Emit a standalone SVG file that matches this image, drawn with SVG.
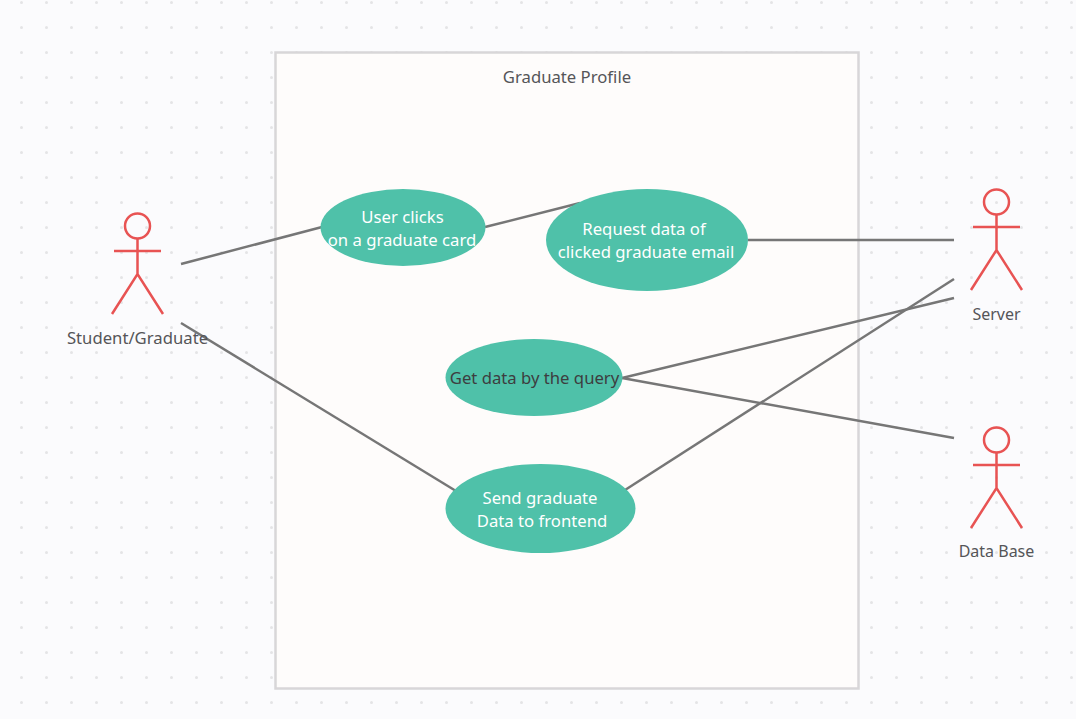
<svg xmlns="http://www.w3.org/2000/svg" width="1076" height="719" viewBox="0 0 1076 719">
<style>
text{font-family:"Noto Sans","Open Sans","Liberation Sans",sans-serif;font-size:16.7px;text-anchor:middle;fill:#555558}
.s{font-size:16px}
.w{fill:#fff}
.d{fill:#3d3d40}
.uc{fill:#4fc1a9}
.c{fill:none;stroke:#767676;stroke-width:2.5}
.a{fill:none;stroke:#e85353;stroke-width:2.5}
</style>
<defs>
<pattern id="dots" x="9" y="-10" width="25" height="25" patternUnits="userSpaceOnUse"><circle cx="12.5" cy="12.5" r="1.5" fill="#e4e4e6"/></pattern>
<g id="stick" class="a"><circle cx="0" cy="-88" r="12.500"/><path d="M0-75.500V-40M-23.500-63H23.500M-25.500 0L0-40L25.500 0"/></g>
</defs>
<rect width="1076" height="719" fill="#fbfbfd"/>
<rect width="1076" height="719" fill="url(#dots)"/>
<g id="boundary"><rect x="275.500" y="52.500" width="583" height="636" fill="#fefcfb" stroke="#d8d6d8" stroke-width="2.500"/><text x="567" y="83">Graduate Profile</text></g>
<g id="connectors" class="c">
<path d="M181 264L322 227"/>
<path d="M485 227L580 203"/>
<path d="M748 240H954"/>
<path d="M622 378L954 298"/>
<path d="M622 378L954 438"/>
<path d="M181 323L456 491"/>
<path d="M625 490L954 279"/>
</g>
<g id="uc1"><ellipse class="uc" cx="403" cy="227.500" rx="82.500" ry="38.500"/><text class="w" x="402.500" y="223">User clicks</text><text class="w" x="402" y="246">on a graduate card</text></g>
<g id="uc2"><ellipse class="uc" cx="647" cy="240" rx="101" ry="51"/><text class="w" x="644" y="235">Request data of</text><text class="w" x="646" y="258">clicked graduate email</text></g>
<g id="uc3"><ellipse class="uc" cx="534" cy="377.500" rx="88.500" ry="38.500"/><text class="d" x="534.500" y="384">Get data by the query</text></g>
<g id="uc4"><ellipse class="uc" cx="540.500" cy="508.500" rx="95" ry="44.500"/><text class="w" x="540" y="504">Send graduate</text><text class="w" x="542" y="527">Data to frontend</text></g>
<g id="actor-student"><use href="#stick" x="137.500" y="314"/><text x="137.500" y="344">Student/Graduate</text></g>
<g id="actor-server"><use href="#stick" x="996.500" y="290"/><text class="s" x="996.500" y="320">Server</text></g>
<g id="actor-database"><use href="#stick" x="996.500" y="528"/><text class="s" x="996.500" y="557">Data Base</text></g>
</svg>
